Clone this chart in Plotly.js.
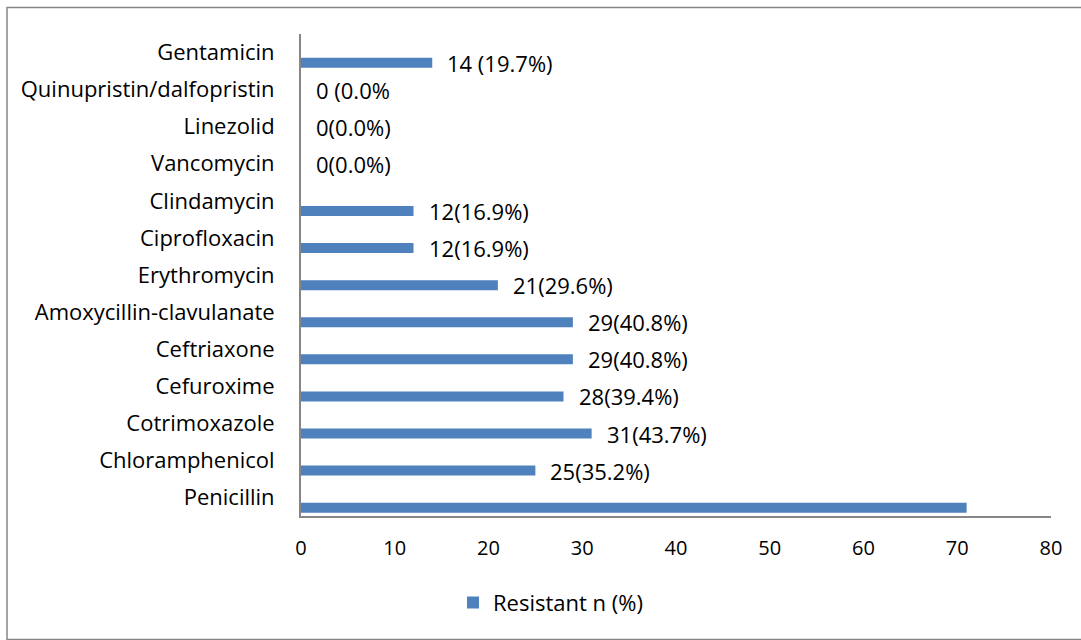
<!DOCTYPE html>
<html>
<head>
<meta charset="utf-8">
<script src="https://cdn.plot.ly/plotly-3.0.1.min.js"></script>
<style>html,body{margin:0;padding:0;background:#fff;}#chart{width:1081px;height:640px;}</style>
</head>
<body>
<div id="chart"></div>
<script>
var categories = ["Penicillin","Chloramphenicol","Cotrimoxazole","Cefuroxime","Ceftriaxone","Amoxycillin-clavulanate","Erythromycin","Ciprofloxacin","Clindamycin","Vancomycin","Linezolid","Quinupristin/dalfopristin","Gentamicin"];
var resistant = [71,25,31,28,29,29,21,12,12,0,0,0,14];
var dataLabels = ["","25(35.2%)","31(43.7%)","28(39.4%)","29(40.8%)","29(40.8%)","21(29.6%)","12(16.9%)","12(16.9%)","0(0.0%)","0(0.0%)","0 (0.0%","14 (19.7%)"];
var seriesName = "Resistant n (%)";
var xTicks = [0,10,20,30,40,50,60,70,80];

var FONT = "'Open Sans', sans-serif";
var FS = 22;
var FS_TICK = 20;

var trace = {
  type: "bar",
  orientation: "h",
  y: categories,
  x: resistant,
  name: seriesName,
  width: 0.27,
  offset: -0.41,
  marker: {color: "#4F81BD", line: {width: 0}},
  hoverinfo: "x+y"
};

var annotations = categories.map(function(c, i){
  var v = resistant[i];
  return {
    x: v, y: v > 0 ? i - 0.275 : i,
    xref: "x", yref: "y",
    text: dataLabels[i],
    showarrow: false,
    xanchor: "left", yanchor: "middle",
    xshift: 13,
    font: {family: FONT, size: FS, color: "#000"}
  };
});

var layout = {
  width: 1081, height: 640,
  margin: {l: 301, r: 30, t: 34, b: 124},
  paper_bgcolor: "#fff", plot_bgcolor: "#fff",
  font: {family: FONT, size: FS, color: "#000"},
  showlegend: true,
  legend: {orientation: "h", x: 0.2027, xanchor: "left", y: -0.18, yanchor: "middle",
           font: {family: FONT, size: FS, color: "#000"}, itemwidth: 30},
  xaxis: {range: [0, 80], tickvals: xTicks, ticktext: xTicks.map(String), showgrid: false, zeroline: false,
          showline: true, linecolor: "#868686", linewidth: 2, ticks: "", ticklabelstandoff: 13,
          tickfont: {family: FONT, size: FS_TICK, color: "#000"}, fixedrange: true},
  yaxis: {type: "category", categoryorder: "array", categoryarray: categories, range: [-0.5, 12.5],
          showgrid: false, zeroline: false, showline: true, linecolor: "#868686", linewidth: 2, ticks: "",
          ticklabelstandoff: 20, tickfont: {family: FONT, size: FS, color: "#000"}, fixedrange: true},
  annotations: annotations,
  shapes: [{type: "rect", xref: "paper", yref: "paper", x0: -0.392, x1: 1.05, y0: -0.256, y1: 1.055,
            line: {color: "#868686", width: 1.5}, fillcolor: "rgba(0,0,0,0)", layer: "below"}]
};

Plotly.newPlot("chart", [trace], layout, {displayModeBar: false, staticPlot: true});
</script>
</body>
</html>
